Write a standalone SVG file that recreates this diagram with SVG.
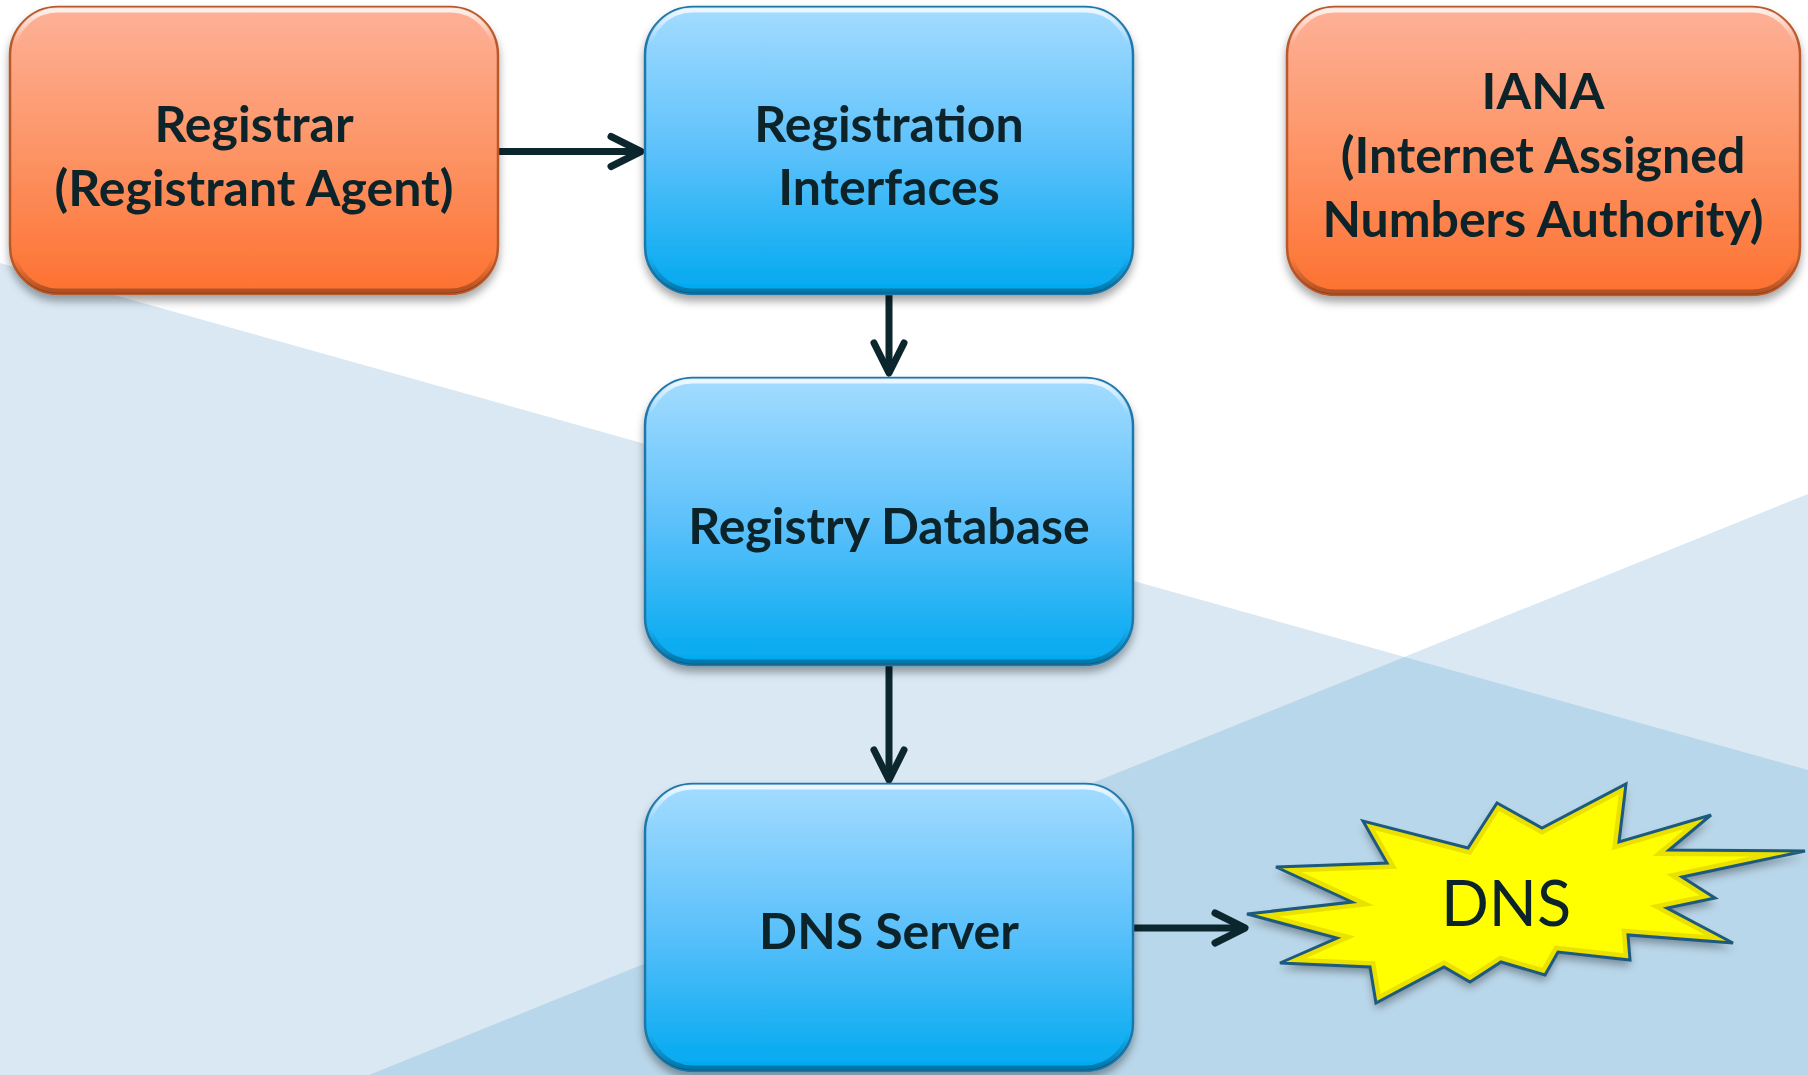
<svg xmlns="http://www.w3.org/2000/svg" width="1808" height="1075" viewBox="0 0 1808 1075">
  <defs>
    <style>
      .label { font-family: Lato, "Open Sans", "Liberation Sans", sans-serif; font-weight: 700; font-size: 50px; fill: #0b2329; text-anchor: middle; }
      .burst-label { font-family: Lato, "Open Sans", "Liberation Sans", sans-serif; font-weight: 400; font-size: 63px; fill: #0b2329; text-anchor: middle; }
      .box-orange { fill: url(#gOrange); stroke: #b9582b; stroke-width: 2.5; }
      .box-blue { fill: url(#gBlue); stroke: #1f77aa; stroke-width: 2.5; }
      .bevel { fill: none; stroke: url(#gBevel); stroke-width: 5; }
      .bg-light { fill: #d9e8f3; }
      .bg-dark { fill: #b9d7ea; }
      .wire { fill: none; stroke: #0b262d; stroke-width: 7; marker-end: url(#chev); }
    </style>
    <linearGradient id="gOrange" x1="0" y1="0" x2="0" y2="1">
      <stop offset="0" stop-color="#fdb198"/>
      <stop offset="0.5" stop-color="#fd9466"/>
      <stop offset="1" stop-color="#fd7130"/>
    </linearGradient>
    <linearGradient id="gBlue" x1="0" y1="0" x2="0" y2="1">
      <stop offset="0" stop-color="#a4dcff"/>
      <stop offset="0.5" stop-color="#5dc1fb"/>
      <stop offset="1" stop-color="#00a9f0"/>
    </linearGradient>
    <linearGradient id="gBevel" x1="0" y1="0" x2="0" y2="1">
      <stop offset="0" stop-color="#ffffff" stop-opacity="0.8"/>
      <stop offset="0.12" stop-color="#ffffff" stop-opacity="0"/>
      <stop offset="0.88" stop-color="#000000" stop-opacity="0"/>
      <stop offset="1" stop-color="#000000" stop-opacity="0.3"/>
    </linearGradient>
    <filter id="shadow" x="-10%" y="-10%" width="120%" height="130%">
      <feGaussianBlur in="SourceAlpha" stdDeviation="4"/>
      <feOffset dx="0" dy="6" result="b"/>
      <feFlood flood-color="#000000" flood-opacity="0.35"/>
      <feComposite in2="b" operator="in" result="s"/>
      <feMerge>
        <feMergeNode in="s"/>
        <feMergeNode in="SourceGraphic"/>
      </feMerge>
    </filter>
    <clipPath id="burstClip">
      <polygon id="burstShape" points="1247,914 1352,902 1276,867 1387,863 1363,821 1468,848 1497,803 1542,828 1626,784 1619,842 1711,815 1669,850 1805,851 1682,877 1715,898 1667,908 1733,943 1628,935 1630,960 1558,952 1545,975 1501,962 1470,982 1444,967 1376,1003 1370,967 1280,963 1337,938"/>
    </clipPath>
    <marker id="chev" markerUnits="userSpaceOnUse" markerWidth="48" markerHeight="48" viewBox="-40 -24 48 48" refX="0" refY="0" orient="auto" overflow="visible">
      <path d="M-30,-15 L0,0 L-30,15" fill="none" stroke="#0b262d" stroke-width="7" stroke-linecap="round" stroke-linejoin="round"/>
    </marker>
  </defs>

  <!-- backdrop -->
  <rect width="1808" height="1075" fill="#ffffff"/>
  <polygon class="bg-light" points="0,263 1808,770 1808,1075 0,1075"/>
  <polygon class="bg-light" points="369,1075 1808,494 1808,1075"/>
  <polygon class="bg-dark" points="369,1075 1404.6,657 1808,770 1808,1075"/>

  <!-- connectors -->
  <g id="connectors">
    <path class="wire" d="M498,151.5 H641"/>
    <path class="wire" d="M889,295 V373"/>
    <path class="wire" d="M889,666 V780"/>
    <path class="wire" d="M1133,928 H1245"/>
  </g>

  <g id="registrar">
    <rect class="box-orange" x="10" y="7" width="488" height="287" rx="48" filter="url(#shadow)"/>
    <rect class="bevel" x="13" y="10" width="482" height="281" rx="45"/>
    <text class="label" x="254" y="142">Registrar</text>
    <text class="label" x="254" y="206">(Registrant Agent)</text>
  </g>

  <g id="registration-interfaces">
    <rect class="box-blue" x="645" y="7" width="488" height="287" rx="48" filter="url(#shadow)"/>
    <rect class="bevel" x="648" y="10" width="482" height="281" rx="45"/>
    <text class="label" x="889" y="142">Registration</text>
    <text class="label" x="889" y="205">Interfaces</text>
  </g>

  <g id="iana">
    <rect class="box-orange" x="1287" y="7" width="513" height="288" rx="48" filter="url(#shadow)"/>
    <rect class="bevel" x="1290" y="10" width="507" height="282" rx="45"/>
    <text class="label" x="1543" y="109">IANA</text>
    <text class="label" x="1543" y="173">(Internet Assigned</text>
    <text class="label" x="1543" y="237">Numbers Authority)</text>
  </g>

  <g id="registry-database">
    <rect class="box-blue" x="645" y="378" width="488" height="287" rx="48" filter="url(#shadow)"/>
    <rect class="bevel" x="648" y="381" width="482" height="281" rx="45"/>
    <text class="label" x="889" y="544">Registry Database</text>
  </g>

  <g id="dns-server">
    <rect class="box-blue" x="645" y="784" width="488" height="287" rx="48" filter="url(#shadow)"/>
    <rect class="bevel" x="648" y="787" width="482" height="281" rx="45"/>
    <text class="label" x="889" y="949">DNS Server</text>
  </g>

  <g id="dns">
    <use href="#burstShape" fill="#ffff00" filter="url(#shadow)"/>
    <use href="#burstShape" fill="none" stroke="#d8c800" stroke-opacity="0.55" stroke-width="12" clip-path="url(#burstClip)"/>
    <use href="#burstShape" fill="none" stroke="#1d5a7e" stroke-width="3" stroke-linejoin="miter"/>
    <text class="burst-label" x="1506" y="926">DNS</text>
  </g>
</svg>
